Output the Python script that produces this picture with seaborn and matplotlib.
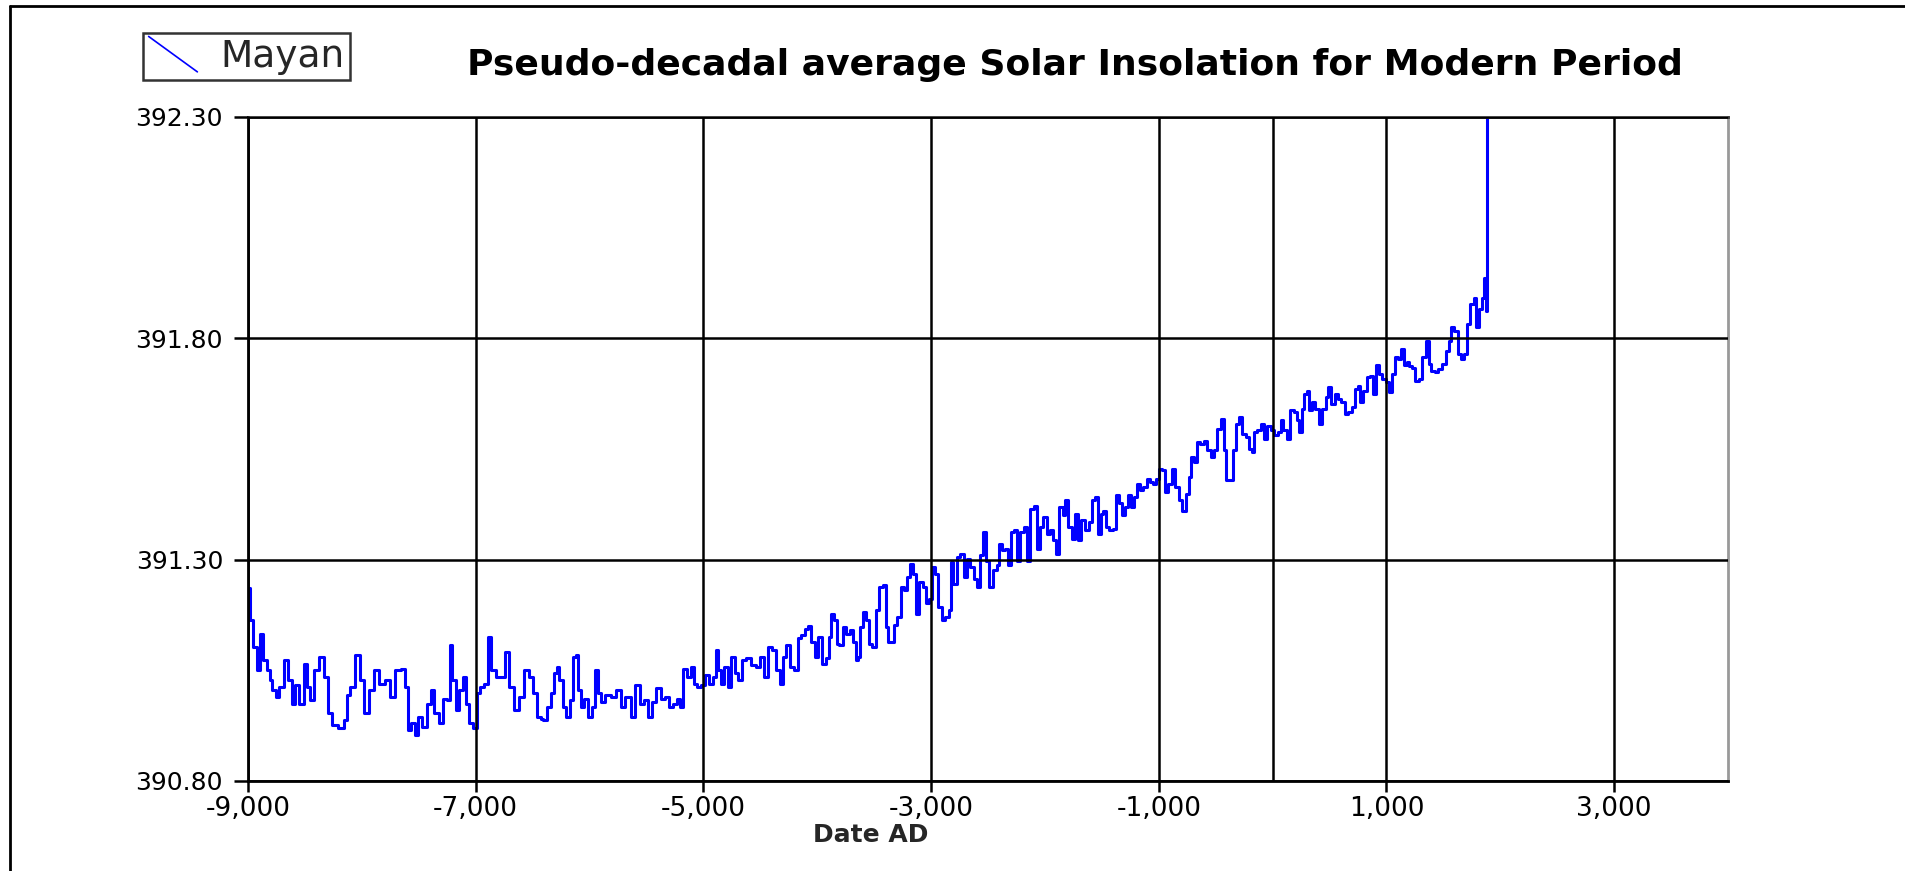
import matplotlib
matplotlib.use("Agg")
import matplotlib.pyplot as plt
import seaborn as sns
import pandas as pd
from matplotlib.lines import Line2D
from matplotlib.legend_handler import HandlerBase
from matplotlib.ticker import FuncFormatter

# ---------------- data ----------------
years_early = [
    -9000, -8970, -8940, -8910, -8880, -8850, -8820, -8800, -8770, -8740, -8710, -8660,
    -8630, -8600, -8580, -8530, -8490, -8470, -8440, -8400, -8360, -8310, -8280, -8240,
    -8180, -8140, -8120, -8080, -8040, -8000, -7960, -7920, -7860, -7830, -7770, -7730,
    -7680, -7640, -7610, -7580, -7550, -7520, -7490, -7450, -7410, -7380, -7350, -7300,
    -7270, -7240, -7220, -7190, -7160, -7130, -7100, -7070, -7040, -7000, -6980, -6940,
    -6910, -6880, -6850, -6800, -6760, -6720, -6690, -6640, -6600, -6550, -6520, -6480,
    -6440,
]
insolation_early = [
    391.235, 391.163, 391.103, 391.050, 391.133, 391.073, 391.050, 391.028, 391.005, 390.990, 391.013, 391.073,
    391.028, 390.975, 391.017, 390.975, 391.065, 391.013, 390.983, 391.050, 391.079, 391.035, 390.953, 390.926,
    390.919, 390.938, 390.994, 391.013, 391.084, 391.028, 390.953, 391.005, 391.050, 391.020, 391.028, 390.990,
    391.050, 391.054, 391.013, 390.915, 390.930, 390.904, 390.945, 390.923, 390.975, 391.005, 390.953, 390.930,
    390.986, 390.983, 391.107, 391.028, 390.960, 391.005, 391.035, 390.975, 390.930, 390.919, 390.998, 391.013,
    391.020, 391.126, 391.050, 391.035, 391.035, 391.092, 391.013, 390.960, 390.990, 391.050, 391.035, 390.998,
    390.945,
]

years_mid1 = [
    -6420, -6390, -6350, -6320, -6300, -6280, -6250, -6220, -6190, -6160, -6130, -6110,
    -6090, -6060, -6030, -5990, -5970, -5940, -5910, -5880, -5840, -5790, -5740, -5710,
    -5660, -5620, -5580, -5540, -5500, -5470, -5430, -5400, -5350, -5320, -5290, -5250,
    -5220, -5190, -5160, -5120, -5100, -5070, -5040, -5000, -4970, -4930, -4900, -4880,
    -4860, -4830, -4800, -4770, -4740, -4710, -4680, -4640, -4610, -4560, -4520, -4480,
    -4450, -4420, -4380, -4340, -4320, -4280, -4260, -4220, -4180, -4160, -4120, -4090,
    -4070, -4040, -4000, -3980, -3940, -3910, -3890,
]
insolation_mid1 = [
    390.941, 390.938, 390.968, 390.998, 391.043, 391.058, 391.028, 390.968, 390.945, 390.983, 391.080, 391.084,
    391.005, 390.968, 390.986, 390.945, 390.968, 391.050, 390.998, 390.979, 390.994, 390.990, 391.005, 390.968,
    390.990, 390.945, 391.017, 390.975, 390.983, 390.945, 390.979, 391.009, 390.986, 390.990, 390.968, 390.975,
    390.986, 390.968, 391.054, 391.035, 391.058, 391.020, 391.013, 391.017, 391.039, 391.020, 391.035, 391.096,
    391.050, 391.020, 391.058, 391.013, 391.080, 391.043, 391.028, 391.073, 391.077, 391.062, 391.058, 391.080,
    391.035, 391.103, 391.096, 391.050, 391.020, 391.080, 391.107, 391.058, 391.050, 391.122, 391.129, 391.144,
    391.150, 391.114, 391.080, 391.126, 391.065, 391.077, 391.126,
]

years_mid2 = [
    -3870, -3840, -3820, -3790, -3760, -3730, -3700, -3670, -3650, -3630, -3610, -3590,
    -3560, -3530, -3500, -3470, -3440, -3410, -3390, -3370, -3340, -3310, -3280, -3250,
    -3230, -3200, -3170, -3140, -3120, -3090, -3060, -3030, -3000, -2980, -2950, -2920,
    -2890, -2860, -2830, -2820, -2790, -2760, -2730, -2700, -2670, -2640, -2610, -2580,
    -2560, -2530, -2510, -2480, -2440, -2410, -2390, -2360, -2340, -2310, -2290, -2260,
    -2230, -2200, -2170, -2140, -2120, -2080, -2060, -2030, -2000, -1970, -1940, -1910,
    -1890, -1860, -1830, -1810, -1780, -1750, -1720, -1700, -1660, -1630, -1600, -1570,
    -1550, -1520, -1500, -1480, -1450, -1420, -1390, -1360,
]
insolation_mid2 = [
    391.178, 391.163, 391.110, 391.107, 391.148, 391.133, 391.140, 391.114, 391.073, 391.080, 391.148, 391.182,
    391.163, 391.110, 391.103, 391.186, 391.238, 391.242, 391.148, 391.114, 391.114, 391.152, 391.171, 391.238,
    391.231, 391.261, 391.291, 391.268, 391.178, 391.250, 391.238, 391.201, 391.212, 391.283, 391.268, 391.193,
    391.163, 391.171, 391.186, 391.295, 391.246, 391.306, 391.313, 391.261, 391.302, 391.283, 391.257, 391.238,
    391.310, 391.362, 391.298, 391.238, 391.276, 391.287, 391.336, 391.321, 391.325, 391.287, 391.362, 391.366,
    391.298, 391.362, 391.374, 391.298, 391.415, 391.422, 391.325, 391.374, 391.396, 391.359, 391.366, 391.344,
    391.313, 391.419, 391.400, 391.434, 391.374, 391.347, 391.404, 391.344, 391.389, 391.366, 391.385, 391.434,
    391.441, 391.359, 391.404, 391.411, 391.374, 391.366, 391.370, 391.445,
]

years_late = [
    -1330, -1310, -1280, -1260, -1230, -1200, -1180, -1150, -1120, -1090, -1060, -1040,
    -1010, -980, -960, -930, -900, -870, -840, -810, -780, -750, -720, -710,
    -670, -650, -620, -590, -560, -530, -500, -470, -440, -420, -400, -360,
    -330, -310, -280, -250, -220, -190, -170, -150, -120, -90, -60, -30,
    0, 30, 60, 80, 110, 140, 170, 200, 220, 250, 270, 290,
    310, 330, 360, 390, 420, 450, 480, 500, 530, 560, 590, 620,
    650, 680, 710, 740, 760, 780, 810, 840, 870, 890, 920, 950,
    980, 1010, 1030, 1060, 1090, 1120, 1140, 1170, 1190,
]
insolation_late = [
    391.427, 391.400, 391.419, 391.445, 391.419, 391.442, 391.472, 391.457, 391.464, 391.483, 391.475, 391.472,
    391.483, 391.505, 391.502, 391.453, 391.472, 391.505, 391.464, 391.434, 391.411, 391.449, 391.487, 391.532,
    391.521, 391.566, 391.562, 391.569, 391.547, 391.532, 391.547, 391.596, 391.618, 391.547, 391.479, 391.479,
    391.547, 391.607, 391.622, 391.584, 391.577, 391.551, 391.543, 391.588, 391.592, 391.607, 391.573, 391.603,
    391.592, 391.581, 391.588, 391.615, 391.592, 391.573, 391.637, 391.633, 391.615, 391.588, 391.641, 391.675,
    391.682, 391.637, 391.656, 391.641, 391.607, 391.641, 391.667, 391.690, 391.652, 391.675, 391.663, 391.656,
    391.630, 391.633, 391.645, 391.686, 391.693, 391.656, 391.682, 391.712, 391.716, 391.675, 391.739, 391.720,
    391.709, 391.701, 391.678, 391.720, 391.757, 391.754, 391.776, 391.739, 391.746,
]

years_modern = [
    1210, 1240, 1270, 1300, 1330, 1360, 1380, 1410, 1440, 1470, 1510, 1540,
    1560, 1580, 1610, 1640, 1670, 1700, 1720, 1750, 1780, 1800, 1830, 1850,
    1870, 1880, 1890,
]
insolation_modern = [
    391.738, 391.734, 391.704, 391.708, 391.757, 391.795, 391.742, 391.727, 391.723, 391.731, 391.742, 391.772,
    391.795, 391.825, 391.817, 391.765, 391.753, 391.765, 391.832, 391.877, 391.892, 391.825, 391.866, 391.892,
    391.937, 391.862, 392.600,
]

series_name = "Mayan"
title_text = "Pseudo-decadal average Solar Insolation for Modern Period"
x_label = "Date AD"
x_ticks = [-9000, -7000, -5000, -3000, -1000, 1000, 3000]
y_ticks = [390.80, 391.30, 391.80, 392.30]
extra_vline = 0

years = years_early + years_mid1 + years_mid2 + years_late + years_modern
insolation = insolation_early + insolation_mid1 + insolation_mid2 + insolation_late + insolation_modern

df = pd.DataFrame({"year": years, "insolation": insolation})

# ---------------- figure ----------------
sns.set_style("white")
plt.rcParams["font.family"] = ["DejaVu Sans"]

W, H = 1905, 871
fig = plt.figure(figsize=(W / 100, H / 100), dpi=100)
ax = fig.add_axes([248 / W, 1 - 781 / H, 1480 / W, 664 / H])

sns.lineplot(data=df, x="year", y="insolation", ax=ax, color="#0000FF",
             linewidth=2.2, estimator=None, sort=False, legend=False,
             drawstyle="steps-mid")

ax.set_xlim(-9000, 4000)
ax.set_ylim(390.8, 392.3)
ax.set_xticks(x_ticks)
ax.set_yticks(y_ticks)
ax.xaxis.set_major_formatter(FuncFormatter(lambda v, p: f"{int(round(v)):,}"))
ax.yaxis.set_major_formatter(FuncFormatter(lambda v, p: f"{v:.2f}"))

ax.set_axisbelow(False)
ax.grid(True, color="black", linewidth=1.8)
ax.axvline(extra_vline, color="black", linewidth=1.8, zorder=2.6)

for side in ["left", "bottom"]:
    ax.spines[side].set_color("black")
    ax.spines[side].set_linewidth(2.0)
ax.spines["top"].set_color("#333333")
ax.spines["top"].set_linewidth(2.0)
ax.spines["right"].set_color("#999999")
ax.spines["right"].set_linewidth(2.0)

ax.tick_params(axis="x", direction="out", length=8, width=1.8, pad=3,
               labelsize=19, color="black", labelcolor="black", bottom=True)
ax.tick_params(axis="y", direction="out", length=10, width=1.8, pad=8,
               labelsize=18, color="black", labelcolor="black", left=True)

ax.set_ylabel("")
ax.set_xlabel(x_label, fontsize=18, fontweight="bold")
ax.xaxis.set_label_coords((871 - 248) / 1480, (781 - 823) / 664)

fig.text(1075 / W, 1 - 65 / H, title_text, ha="center", va="center",
         fontsize=26, fontweight="bold", color="black")


class DiagHandler(HandlerBase):
    def create_artists(self, legend, orig_handle, xdescent, ydescent,
                       width, height, fontsize, trans):
        x0, y0 = -xdescent, -ydescent
        line = Line2D([x0, x0 + width], [y0 + height * 1.15, y0 - height * 0.2],
                      color=orig_handle.get_color(),
                      linewidth=orig_handle.get_linewidth(), transform=trans)
        return [line]


handle = Line2D([], [], color="#0000FF", linewidth=1.2)
leg = ax.legend([handle], [series_name], handler_map={Line2D: DiagHandler()},
                loc="upper left", bbox_to_anchor=(143 / W, 1 - 33 / H),
                bbox_transform=fig.transFigure, frameon=True, fancybox=False,
                edgecolor="black", fontsize=27, borderpad=0.15,
                handlelength=1.3, handletextpad=0.6, borderaxespad=0.0)
leg.get_frame().set_linewidth(1.8)
leg.get_frame().set_facecolor("white")

# outer frame lines (left and top)
fig.add_artist(Line2D([10 / W, 10 / W], [0, 1 - 6 / H], transform=fig.transFigure,
                      color="black", linewidth=2))
fig.add_artist(Line2D([10 / W, 1], [1 - 6 / H, 1 - 6 / H], transform=fig.transFigure,
                      color="black", linewidth=2))

fig.savefig("out.png", dpi=100)
